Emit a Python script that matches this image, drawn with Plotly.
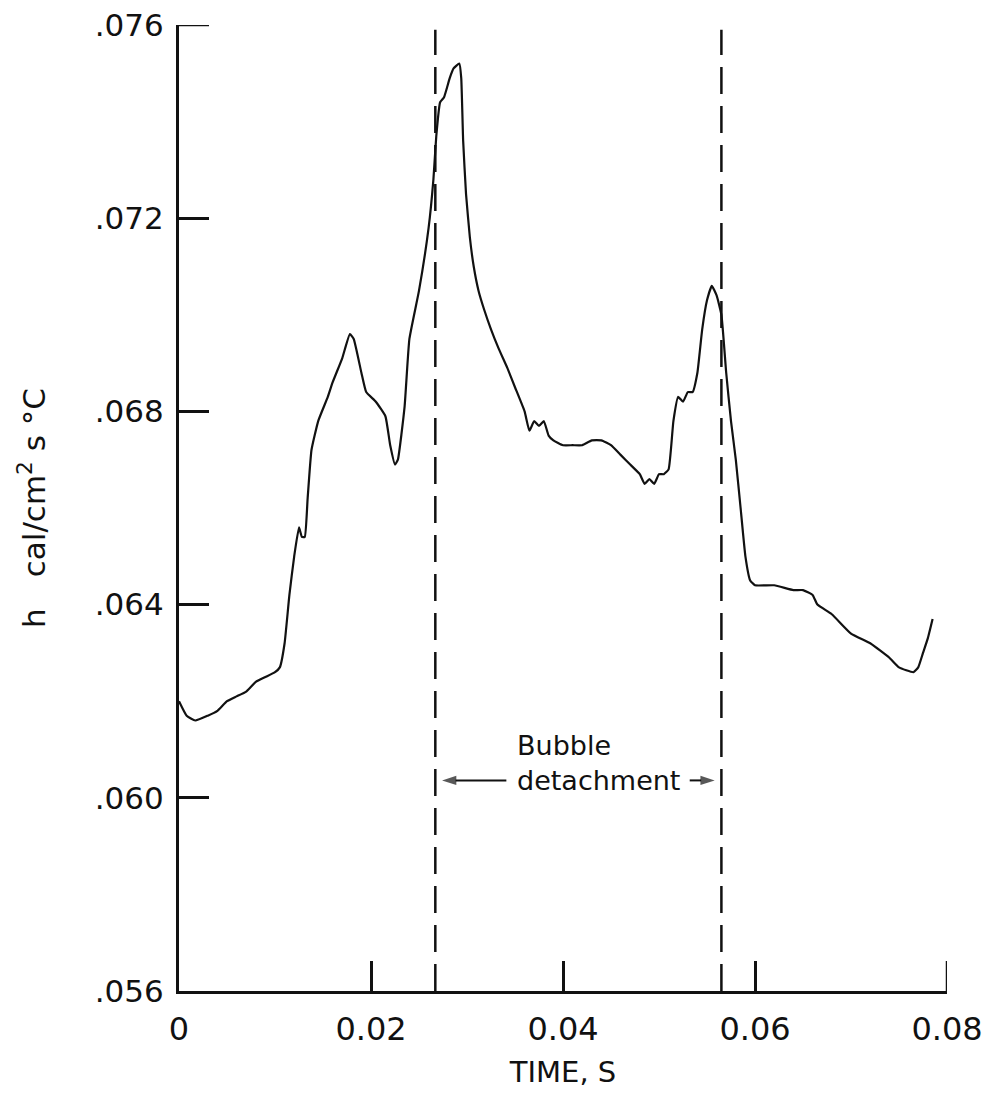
import plotly.graph_objects as go

# ---- data ----
time_s = [0.0000, 0.0008, 0.0017, 0.0030, 0.0040, 0.0050, 0.0060, 0.0070, 0.0080, 0.0090,
          0.0100, 0.0105, 0.0110, 0.0115, 0.0120, 0.0125, 0.0128, 0.0131, 0.0134, 0.0138,
          0.0145, 0.0155, 0.0160, 0.0170, 0.0178, 0.0182, 0.0190, 0.0195, 0.0205, 0.0215,
          0.0220, 0.0225, 0.0228, 0.0235, 0.0240, 0.0250, 0.0260, 0.0265, 0.0268, 0.0272,
          0.0276, 0.0282, 0.0286, 0.0292, 0.0294, 0.0296, 0.0299, 0.0303, 0.0307, 0.0312,
          0.0318, 0.0325, 0.0333, 0.0342, 0.0350, 0.0360, 0.0365, 0.0370, 0.0375, 0.0380,
          0.0385, 0.0390, 0.0400, 0.0410, 0.0420, 0.0430, 0.0440, 0.0450, 0.0460, 0.0470,
          0.0480, 0.0485, 0.0490, 0.0495, 0.0500, 0.0505, 0.0510, 0.0515, 0.0520, 0.0525,
          0.0530, 0.0535, 0.0540, 0.0545, 0.0550, 0.0555, 0.0560, 0.0565, 0.0570, 0.0575,
          0.0580, 0.0585, 0.0590, 0.0595, 0.0600, 0.0620, 0.0640, 0.0650, 0.0660, 0.0665,
          0.0680, 0.0700, 0.0720, 0.0740, 0.0750, 0.0765, 0.0770, 0.0775, 0.0780, 0.0785]
h_values = [0.0620, 0.0617, 0.0616, 0.0617, 0.0618, 0.0620, 0.0621, 0.0622, 0.0624, 0.0625,
            0.0626, 0.0627, 0.0632, 0.0642, 0.0650, 0.0656, 0.0654, 0.0654, 0.0662, 0.0672,
            0.0678, 0.0683, 0.0686, 0.0691, 0.0696, 0.0695, 0.0688, 0.0684, 0.0682, 0.0679,
            0.0673, 0.0669, 0.0670, 0.0681, 0.0695, 0.0705, 0.0718, 0.0728, 0.0737, 0.0744,
            0.0745, 0.0749, 0.0751, 0.0752, 0.0749, 0.0736, 0.0725, 0.0716, 0.0710, 0.0705,
            0.0701, 0.0697, 0.0693, 0.0689, 0.0685, 0.0680, 0.0676, 0.0678, 0.0677, 0.0678,
            0.0675, 0.0674, 0.0673, 0.0673, 0.0673, 0.0674, 0.0674, 0.0673, 0.0671, 0.0669,
            0.0667, 0.0665, 0.0666, 0.0665, 0.0667, 0.0667, 0.0668, 0.0678, 0.0683, 0.0682,
            0.0684, 0.0684, 0.0688, 0.0697, 0.0703, 0.0706, 0.0704, 0.0700, 0.0688, 0.0678,
            0.0670, 0.0660, 0.0650, 0.0645, 0.0644, 0.0644, 0.0643, 0.0643, 0.0642, 0.0640,
            0.0638, 0.0634, 0.0632, 0.0629, 0.0627, 0.0626, 0.0627, 0.0630, 0.0633, 0.0637]

detach_times = [0.0267, 0.0565]

# arrows of the "Bubble detachment" note: [tail, tip] in data units
arrow_left_x = [0.0341, 0.0274]
arrow_right_x = [0.0532, 0.0558]
arrow_y = 0.06036

x_tickvals = [0, 0.02, 0.04, 0.06, 0.08]
x_ticktext = ["0", "0.02", "0.04", "0.06", "0.08"]
y_tickvals = [0.056, 0.060, 0.064, 0.068, 0.072, 0.076]
y_ticktext = [".056", ".060", ".064", ".068", ".072", ".076"]

FONT = "DejaVu Sans"
INK = "#111111"
X_RANGE = [x_tickvals[0], x_tickvals[-1]]
Y_RANGE = [y_tickvals[0], y_tickvals[-1]]

fig = go.Figure()
fig.add_trace(go.Scatter(x=time_s, y=h_values, mode="lines",
                         line=dict(color=INK, width=2.2, shape="spline", smoothing=0.4),
                         showlegend=False, hoverinfo="skip"))

for t in detach_times:
    fig.add_trace(go.Scatter(x=[t, t], y=[0.056, 0.0759], mode="lines",
                             line=dict(color=INK, width=2.5, dash="27px,12px"),
                             showlegend=False, hoverinfo="skip"))

for ax_x in (arrow_left_x, arrow_right_x):
    fig.add_trace(go.Scatter(x=ax_x, y=[arrow_y, arrow_y], mode="lines+markers",
                             line=dict(color=INK, width=2),
                             marker=dict(symbol="arrow", angleref="previous",
                                         size=[0, 15], color=INK,
                                         line=dict(width=0)),
                             showlegend=False, hoverinfo="skip"))

# annotation text
fig.add_annotation(x=0.0350, y=0.06108, text="Bubble", showarrow=False,
                   xanchor="left", yanchor="middle",
                   font=dict(family=FONT, size=27, color=INK))
fig.add_annotation(x=0.0350, y=arrow_y, text="detachment", showarrow=False,
                   xanchor="left", yanchor="middle",
                   font=dict(family=FONT, size=27, color=INK))

# inside ticks at the far ends of the axes (plotly drops them at the range edges)
fig.add_shape(type="line", xref="x", yref="y", x0=X_RANGE[1], x1=X_RANGE[1],
              ysizemode="pixel", yanchor=Y_RANGE[0], y0=0, y1=30,
              line=dict(color=INK, width=2.5))
fig.add_shape(type="line", xref="x", yref="y", y0=Y_RANGE[1], y1=Y_RANGE[1],
              xsizemode="pixel", xanchor=X_RANGE[0], x0=0, x1=30,
              line=dict(color=INK, width=2.5))

fig.update_xaxes(range=X_RANGE, tickvals=x_tickvals, ticktext=x_ticktext,
                 ticks="inside", ticklen=30, tickwidth=2.5, tickcolor=INK,
                 showline=True, linewidth=3, linecolor=INK, mirror=False,
                 showgrid=False, zeroline=False, automargin=False,
                 ticklabelstandoff=8, ticklabeloverflow="allow",
                 tickfont=dict(family=FONT, size=32, color=INK),
                 title=dict(text="TIME, S", font=dict(family=FONT, size=29, color=INK),
                            standoff=15))
fig.update_yaxes(range=Y_RANGE, tickvals=y_tickvals, ticktext=y_ticktext,
                 ticks="inside", ticklen=30, tickwidth=2.5, tickcolor=INK,
                 showline=True, linewidth=3, linecolor=INK, mirror=False,
                 showgrid=False, zeroline=False, automargin=False,
                 ticklabelstandoff=6, ticklabeloverflow="allow",
                 tickfont=dict(family=FONT, size=31, color=INK),
                 title=dict(text="h\u2003cal/cm<sup>2</sup> s °C",
                            font=dict(family=FONT, size=31, color=INK),
                            standoff=40))

# the page body adds an 8px offset, so the figure is 8px smaller than the window
fig.update_layout(width=995, height=1085,
                  margin=dict(l=171, r=56, t=17, b=102),
                  plot_bgcolor="white", paper_bgcolor="white",
                  showlegend=False)

fig.write_html("out.html")
